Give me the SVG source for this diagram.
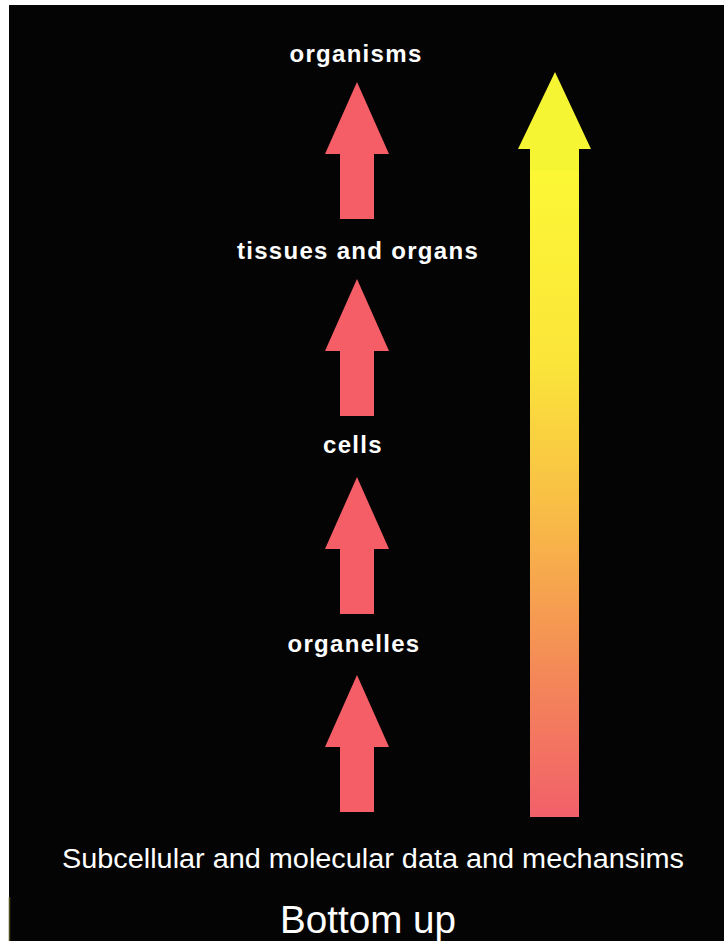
<svg xmlns="http://www.w3.org/2000/svg" width="724" height="941" viewBox="0 0 724 941">
<defs>
<style>
.lbl{font-family:"Liberation Sans",Arial,sans-serif;font-weight:bold;font-size:24px;letter-spacing:1.3px;fill:#ffffff;text-anchor:middle}
.base{font-family:"Liberation Sans",Arial,sans-serif;fill:#ffffff;text-anchor:middle}
.small{fill:#f55d67}
</style>
<linearGradient id="bigGrad" x1="0" y1="170" x2="0" y2="817" gradientUnits="userSpaceOnUse">
<stop offset="0" stop-color="#fcf735"/>
<stop offset="0.3" stop-color="#fbe53a"/>
<stop offset="0.55" stop-color="#f8b848"/>
<stop offset="0.78" stop-color="#f48858"/>
<stop offset="1" stop-color="#f2606a"/>
</linearGradient>
<path id="smallArrow" d="M0,0 L32,72 L17,72 L17,137 L-17,137 L-17,72 L-32,72 Z"/>
</defs>
<rect x="0" y="0" width="724" height="941" fill="#ffffff"/>
<rect x="9" y="5" width="715" height="936" fill="#040404"/>
<line x1="9.5" y1="897" x2="9.5" y2="941" stroke="#4a4a1a" stroke-width="1.5"/>

<g id="node-organisms"><text class="lbl" x="356" y="62">organisms</text></g>
<g id="node-tissues"><text class="lbl" x="358" y="259">tissues and organs</text></g>
<g id="node-cells"><text class="lbl" x="353" y="453">cells</text></g>
<g id="node-organelles"><text class="lbl" x="354" y="652">organelles</text></g>
<g id="node-subcellular"><text class="base" x="373" y="868" font-size="27" textLength="622" lengthAdjust="spacingAndGlyphs">Subcellular and molecular data and mechansims</text></g>
<g id="node-bottomup"><text class="base" x="368" y="933" font-size="39" textLength="176" lengthAdjust="spacingAndGlyphs">Bottom up</text></g>

<g id="connectors">
<use href="#smallArrow" class="small" x="357" y="82"/>
<use href="#smallArrow" class="small" x="357" y="279"/>
<use href="#smallArrow" class="small" x="357" y="477"/>
<use href="#smallArrow" class="small" x="357" y="675"/>
<g id="big-arrow">
<rect x="530" y="168" width="49" height="649" fill="url(#bigGrad)"/>
<path d="M555,72 L591,149 L579,149 L579,170 L530,170 L530,149 L518,149 Z" fill="#f6f534"/>
</g>
</g>
</svg>
